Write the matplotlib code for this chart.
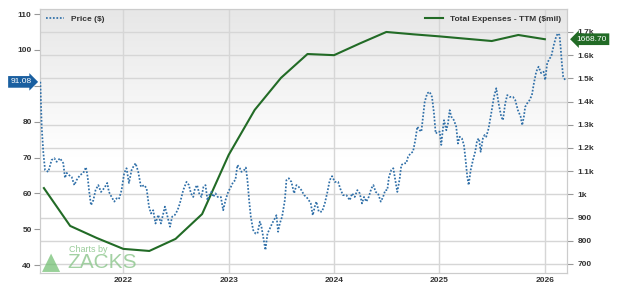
import matplotlib
matplotlib.use("Agg")
import matplotlib.pyplot as plt
import numpy as np
from matplotlib.lines import Line2D

# price ($), decimal year -> value
price_t = [
    2021.213, 2021.218, 2021.226, 2021.242, 2021.258, 2021.289, 2021.320, 2021.346,
    2021.368, 2021.400, 2021.431, 2021.447, 2021.463, 2021.485, 2021.510, 2021.536,
    2021.557, 2021.590, 2021.621, 2021.646, 2021.662, 2021.675, 2021.694, 2021.716,
    2021.737, 2021.763, 2021.789, 2021.820, 2021.848, 2021.864, 2021.889, 2021.915,
    2021.936, 2021.959, 2021.984, 2022.009, 2022.031, 2022.054, 2022.079, 2022.095,
    2022.117, 2022.142, 2022.168, 2022.199, 2022.221, 2022.244, 2022.263, 2022.284,
    2022.306, 2022.332, 2022.357, 2022.379, 2022.395, 2022.420, 2022.443, 2022.464,
    2022.490, 2022.515, 2022.537, 2022.569, 2022.600, 2022.623, 2022.642, 2022.664,
    2022.680, 2022.701, 2022.720, 2022.742, 2022.761, 2022.780, 2022.799, 2022.822,
    2022.837, 2022.853, 2022.875, 2022.896, 2022.926, 2022.948, 2022.970, 2022.995,
    2023.021, 2023.043, 2023.064, 2023.083, 2023.106, 2023.121, 2023.147, 2023.163,
    2023.178, 2023.194, 2023.210, 2023.232, 2023.254, 2023.273, 2023.296, 2023.311,
    2023.327, 2023.349, 2023.368, 2023.391, 2023.412, 2023.438, 2023.453, 2023.469,
    2023.485, 2023.507, 2023.533, 2023.548, 2023.571, 2023.595, 2023.621, 2023.643,
    2023.665, 2023.690, 2023.716, 2023.738, 2023.760, 2023.779, 2023.798, 2023.817,
    2023.832, 2023.855, 2023.886, 2023.912, 2023.937, 2023.959, 2023.981, 2024.007,
    2024.038, 2024.064, 2024.085, 2024.117, 2024.149, 2024.171, 2024.196, 2024.221,
    2024.244, 2024.265, 2024.284, 2024.306, 2024.329, 2024.354, 2024.373, 2024.395,
    2024.417, 2024.443, 2024.465, 2024.486, 2024.505, 2024.521, 2024.543, 2024.562,
    2024.581, 2024.600, 2024.623, 2024.638, 2024.664, 2024.685, 2024.702, 2024.727,
    2024.749, 2024.771, 2024.790, 2024.812, 2024.828, 2024.844, 2024.860, 2024.884,
    2024.907, 2024.929, 2024.948, 2024.964, 2024.986, 2025.002, 2025.017, 2025.033,
    2025.043, 2025.065, 2025.081, 2025.097, 2025.112, 2025.137, 2025.159, 2025.175,
    2025.192, 2025.213, 2025.232, 2025.248, 2025.264, 2025.277, 2025.296, 2025.318,
    2025.339, 2025.358, 2025.375, 2025.391, 2025.412, 2025.429, 2025.444, 2025.466,
    2025.491, 2025.517, 2025.539, 2025.561, 2025.586, 2025.602, 2025.624, 2025.643,
    2025.666, 2025.697, 2025.719, 2025.744, 2025.770, 2025.785, 2025.801, 2025.813,
    2025.832, 2025.855, 2025.877, 2025.896, 2025.918, 2025.940, 2025.965, 2025.988,
    2026.003, 2026.022, 2026.045, 2026.060, 2026.085, 2026.107, 2026.123, 2026.139,
    2026.149, 2026.161, 2026.174, 2026.193,
]
price = [
    91.1, 86.5, 78.6, 71.2, 66.5, 66.0, 69.3, 69.8,
    68.8, 69.8, 68.4, 64.3, 65.7, 65.1, 64.6, 62.3,
    63.7, 65.1, 65.7, 67.3, 64.6, 60.9, 56.7, 58.1,
    60.9, 62.3, 60.4, 61.5, 62.9, 60.4, 59.0, 57.7,
    58.6, 58.4, 60.9, 65.7, 67.0, 62.9, 66.5, 67.4,
    68.4, 66.0, 61.8, 62.3, 61.4, 56.3, 54.4, 55.3,
    51.6, 54.0, 51.6, 54.4, 56.3, 53.5, 50.7, 53.5,
    54.0, 55.3, 57.2, 60.9, 63.2, 62.3, 60.0, 59.0,
    61.4, 62.3, 60.0, 59.0, 61.8, 62.3, 58.1, 60.0,
    60.4, 59.0, 60.0, 59.0, 59.0, 55.3, 58.1, 60.4,
    61.8, 63.2, 63.7, 67.9, 67.0, 66.0, 66.5, 67.2,
    63.7, 58.1, 53.5, 49.8, 48.8, 48.8, 52.1, 50.7,
    47.9, 44.2, 48.8, 50.2, 51.6, 53.0, 53.9, 49.3,
    51.6, 53.5, 58.1, 63.7, 64.2, 63.2, 60.0, 62.3,
    61.8, 60.9, 59.5, 59.0, 58.1, 57.2, 53.9, 56.3,
    57.7, 54.9, 54.9, 57.2, 60.4, 63.7, 64.8, 63.2,
    63.2, 60.9, 59.5, 59.5, 58.1, 60.0, 59.0, 60.9,
    60.0, 57.2, 59.0, 57.7, 59.0, 61.4, 62.3, 60.4,
    60.0, 57.7, 59.0, 60.9, 60.9, 64.6, 66.5, 67.0,
    63.7, 60.4, 64.2, 67.9, 68.4, 68.4, 70.2, 71.2,
    71.6, 74.9, 78.6, 77.6, 77.2, 81.4, 85.5, 87.9,
    88.3, 86.9, 82.3, 76.7, 77.2, 77.2, 73.5, 78.1,
    80.4, 77.6, 79.5, 83.2, 81.4, 80.4, 78.6, 73.9,
    75.8, 75.3, 73.5, 69.3, 64.6, 62.3, 66.5, 69.3,
    71.6, 74.9, 75.3, 71.6, 75.3, 76.3, 75.8, 78.1,
    82.3, 86.9, 89.3, 85.1, 81.4, 80.4, 85.1, 87.4,
    86.9, 86.9, 86.0, 83.2, 81.4, 79.0, 81.4, 84.1,
    85.1, 86.0, 87.4, 90.7, 93.9, 95.3, 93.5, 93.9,
    91.6, 96.3, 97.6, 98.1, 101.4, 103.7, 104.6, 104.1,
    100.9, 96.3, 92.5, 91.6,
]
price_flag = 91.08

# total expenses TTM ($mil), quarter ends
exp_t = [
    2021.247, 2021.496, 2021.748, 2022.0, 2022.247, 2022.496, 2022.748, 2023.0,
    2023.247, 2023.496, 2023.748, 2024.0, 2024.247, 2024.496, 2024.748, 2025.0,
    2025.247, 2025.496, 2025.748, 2026.0,
]
expenses = [
    1027, 864, 812, 765, 756, 808, 915, 1170,
    1364, 1502, 1605, 1600, 1651, 1700, 1690, 1681,
    1671, 1661, 1687, 1668.7,
]

years = [2022, 2023, 2024, 2025, 2026]
price_ticks = [40, 50, 60, 70, 80, 90, 100, 110]
exp_ticks = [700, 800, 900, 1000, 1100, 1200, 1300, 1400, 1500, 1600, 1700]

BLUE = "#2f6fa8"
GREEN = "#226b26"
TXT = "#333333"
plt.rcParams["font.family"] = ["Liberation Sans", "DejaVu Sans"]


def k_fmt(v):
    return f"{v / 1000:g}k" if v >= 1000 else f"{v:g}"


def main():
    fig = plt.figure(figsize=(6.2, 2.87), dpi=100)
    ax = fig.add_axes([40 / 620, 14 / 287, 527 / 620, 264 / 287])
    ax2 = ax.twinx()

    # background gradient, grey top -> white
    grad = np.concatenate([np.ones(200), np.linspace(1.0, 0.905, 256)])[::-1]
    ax.imshow(np.dstack([grad, grad, grad]).reshape(-1, 1, 3), extent=[0, 1, 0, 1],
              transform=ax.transAxes, aspect="auto", zorder=-5)

    ax.plot(exp_t, expenses, color=GREEN, lw=1.5, zorder=3)
    ax2.plot(price_t, price, color=BLUE, lw=1.25, ls=(0, (1, 1)), zorder=3)

    ax.set_xlim(2021.21, 2026.21)
    ax.set_ylim(661, 1799)
    ax2.set_ylim(37.8, 111.4)

    # expenses axis on the right, price on the left
    ax.yaxis.tick_right()
    ax2.yaxis.tick_left()
    ax.set_yticks(exp_ticks)
    ax.set_yticklabels([k_fmt(v) for v in exp_ticks])
    ax2.set_yticks(price_ticks)
    # the 90 label sits under the price flag
    ax2.set_yticklabels(["" if v == 90 else str(v) for v in price_ticks])
    ax.set_xticks(years)
    ax.set_xticklabels([str(y) for y in years])

    ax.grid(True, color="#d6d6d6", lw=1.0, zorder=0)
    ax.set_axisbelow(True)
    for a in (ax, ax2):
        for s in a.spines.values():
            s.set_color("#cccccc")
        a.tick_params(labelsize=6, colors=TXT, length=4, width=0.8)
        for lab in a.get_yticklabels() + a.get_xticklabels():
            lab.set_fontweight("bold")
    ax.tick_params(axis="x", length=0, pad=3)
    ax.tick_params(axis="both", color="#999999")
    ax2.tick_params(axis="y", color="#999999", pad=2)

    # legends
    h1 = Line2D([], [], color=BLUE, lw=1.25, ls=(0, (1, 1)))
    h2 = Line2D([], [], color=GREEN, lw=1.5)
    leg1 = ax2.legend([h1], ["Price ($)"], loc="upper left", frameon=False,
                      fontsize=6, handlelength=2.2, borderaxespad=0.3)
    ax2.add_artist(leg1)
    leg2 = ax2.legend([h2], ["Total Expenses - TTM ($mil)"], loc="upper right",
                      frameon=False, fontsize=6, handlelength=2.2, borderaxespad=0.3)
    for leg in (leg1, leg2):
        for t in leg.get_texts():
            t.set_color(TXT)
            t.set_fontweight("bold")

    # last value flags
    ax2.annotate(f"{price_flag:.2f}", xy=(-0.036, price_flag),
                 xycoords=("axes fraction", "data"), ha="center", va="center",
                 fontsize=6, color="white", annotation_clip=False, zorder=10,
                 bbox=dict(boxstyle="rarrow,pad=0.28", fc="#1a5fa0", ec="none"))
    ax.annotate(f"{expenses[-1]:.2f}", xy=(1.047, expenses[-1]),
                xycoords=("axes fraction", "data"), ha="center", va="center",
                fontsize=6, color="white", annotation_clip=False, zorder=10,
                bbox=dict(boxstyle="larrow,pad=0.28", fc=GREEN, ec="none"))

    # watermark
    fig.text(69 / 620, 1 - 249 / 287, "Charts by", fontsize=6.5, color="#88c488",
             alpha=0.85, va="center", ha="left")
    fig.text(67 / 620, 1 - 263 / 287, "ZACKS", fontsize=15, color="#8cc68c",
             alpha=0.8, va="center", ha="left")
    fig.text(42 / 620, 1 - 262 / 287, "\u25b2", fontsize=17, color="#6cbd6c",
             alpha=0.7, va="center", ha="left", family="DejaVu Sans")

    fig.savefig("out.png", dpi=100)


if __name__ == "__main__":
    main()
